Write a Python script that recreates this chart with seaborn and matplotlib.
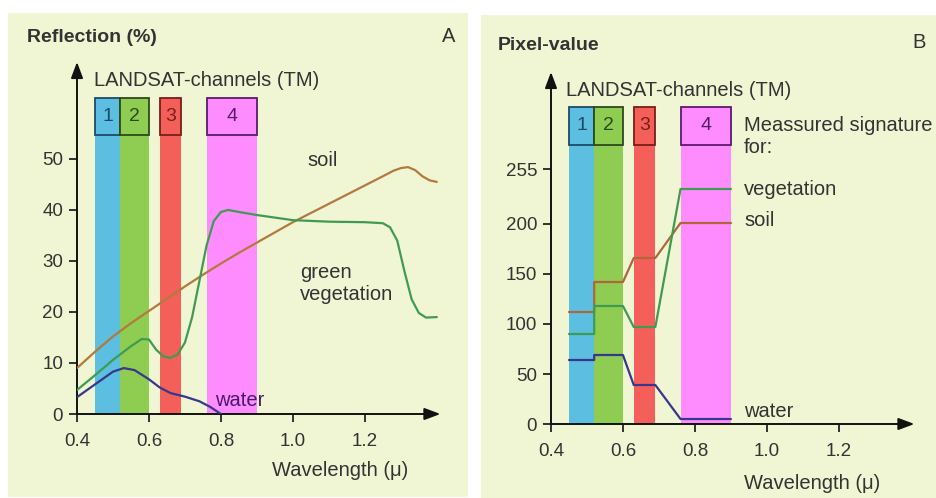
import matplotlib
matplotlib.use("Agg")
import matplotlib.pyplot as plt
from matplotlib.patches import Rectangle
import pandas as pd
import seaborn as sns

# LANDSAT TM channels (micrometre)
channels = ["1", "2", "3", "4"]
band_lo = [0.45, 0.52, 0.63, 0.76]
band_hi = [0.52, 0.60, 0.69, 0.90]

# panel A: spectral reflection curves (%)
soil_x = [0.40, 0.45, 0.50, 0.55, 0.60, 0.65, 0.70, 0.75, 0.80, 0.85, 0.90, 0.95, 1.00,
          1.05, 1.10, 1.15, 1.20, 1.25, 1.28, 1.30, 1.32, 1.34, 1.36, 1.38, 1.40]
soil_y = [9.0, 12.2, 15.2, 17.8, 20.2, 22.6, 25.0, 27.3, 29.5, 31.6, 33.6, 35.6, 37.6,
          39.4, 41.2, 43.0, 44.8, 46.6, 47.7, 48.2, 48.4, 47.8, 46.6, 45.8, 45.5]
veg_x = [0.40, 0.45, 0.50, 0.55, 0.58, 0.60, 0.62, 0.64, 0.66, 0.68, 0.70, 0.72, 0.74,
         0.76, 0.78, 0.80, 0.82, 0.85, 0.90, 1.00, 1.10, 1.20, 1.25, 1.27, 1.29,
         1.31, 1.33, 1.35, 1.37, 1.40]
veg_y = [4.7, 7.6, 10.6, 13.3, 14.7, 14.6, 12.6, 11.3, 11.0, 11.7, 14.0, 19.0, 26.0,
         33.0, 37.8, 39.6, 40.0, 39.6, 39.0, 38.0, 37.7, 37.6, 37.4, 36.6, 34.0,
         28.0, 22.5, 19.8, 18.9, 19.0]
water_x = [0.40, 0.45, 0.50, 0.53, 0.56, 0.60, 0.63, 0.66, 0.70, 0.74, 0.77, 0.80]
water_y = [3.3, 5.8, 8.3, 9.0, 8.6, 6.8, 5.2, 4.1, 3.4, 2.5, 1.4, 0.0]

# panel B: measured pixel values per channel
pix_soil = [112, 142, 166, 201]
pix_veg = [90, 118, 97, 235]
pix_water = [64, 69, 39, 5]

W, H = 936, 498
bg = "#f0f5d3"
band_fill = ["#5cbee0", "#8fcd52", "#f55f5a", "#ff8cff"]
band_edge = ["#1f4a66", "#2e4a1a", "#7a1d1a", "#5a1a6a"]
c_soil, c_veg, c_water = "#b27a3c", "#3f9b52", "#37378c"
txt = "#333333"
FS = 14.5

sns.set_theme(style="white")
plt.rcParams["font.family"] = ["Liberation Sans", "DejaVu Sans"]

fig = plt.figure(figsize=(W / 100, H / 100), dpi=100)
fig.patch.set_facecolor("white")
fig.patches.append(Rectangle((8 / W, 1 / H), 460 / W, 484 / H, transform=fig.transFigure,
                             facecolor=bg, edgecolor="none", zorder=-10))
fig.patches.append(Rectangle((481 / W, 0), 455 / W, 483 / H, transform=fig.transFigure,
                             facecolor=bg, edgecolor="none", zorder=-10))


def fx(px):
    return px / W


def fy(py):
    return 1 - py / H


def setup(ax, ymax, ytop, yticks, box):
    ax.set_facecolor("none")
    ax.set_xlim(0.4, 1.42)
    ax.set_ylim(0, ymax)
    for s in ax.spines.values():
        s.set_visible(False)
    ax.set_xticks([0.4, 0.6, 0.8, 1.0, 1.2])
    ax.set_xticklabels(["0.4", "0.6", "0.8", "1.0", "1.2"])
    ax.set_yticks(yticks)
    ax.tick_params(direction="out", length=6, width=1.3, color="#222222",
                   labelsize=13.5, labelcolor=txt, bottom=True, left=True)
    ax.tick_params(axis="x", pad=8)
    ax.tick_params(axis="y", pad=4)
    arrow = dict(arrowstyle="-|>,head_length=0.8,head_width=0.3", color="#111111",
                 lw=1.4, shrinkA=0, shrinkB=0)
    ax.annotate("", xy=(1.41, 0), xytext=(0.4, 0), arrowprops=arrow, annotation_clip=False)
    ax.annotate("", xy=(0.4, ytop), xytext=(0.4, 0), arrowprops=arrow, annotation_clip=False)
    b0, b1 = box
    for i, ch in enumerate(channels):
        ax.axvspan(band_lo[i], band_hi[i], ymin=0, ymax=b0 / ymax,
                   color=band_fill[i], lw=0, zorder=0)
        ax.add_patch(Rectangle((band_lo[i], b0), band_hi[i] - band_lo[i], b1 - b0,
                               facecolor=band_fill[i], edgecolor=band_edge[i], lw=1.3, zorder=1))
        ax.text((band_lo[i] + band_hi[i]) / 2, (b0 + b1) / 2, ch, ha="center", va="center",
                fontsize=14, color=band_edge[i], zorder=2)


# ---- Panel A ----
axA = fig.add_axes([fx(77), 84 / H, 367 / W, 352 / H])
setup(axA, 69, 69, [0, 10, 20, 30, 40, 50], (54.7, 62.0))
curves = pd.concat([
    pd.DataFrame({"wl": soil_x, "val": soil_y, "kind": "soil"}),
    pd.DataFrame({"wl": veg_x, "val": veg_y, "kind": "vegetation"}),
    pd.DataFrame({"wl": water_x, "val": water_y, "kind": "water"}),
])
sns.lineplot(data=curves, x="wl", y="val", hue="kind", estimator=None, sort=False,
             palette={"soil": c_soil, "vegetation": c_veg, "water": c_water},
             linewidth=1.6, legend=False, ax=axA, zorder=3)
axA.set_xlabel("")
axA.set_ylabel("")

fig.text(fx(27), fy(37), "Reflection (%)", fontsize=14, fontweight="bold", color=txt,
         ha="left", va="center")
fig.text(fx(455), fy(37), "A", fontsize=FS, color=txt, ha="right", va="center")
fig.text(fx(94), fy(80), "LANDSAT-channels (TM)", fontsize=FS, color=txt, ha="left",
         va="center")
fig.text(fx(307), fy(160), "soil", fontsize=FS, color=txt, ha="left", va="center")
fig.text(fx(300), fy(283), "green\nvegetation", fontsize=FS, color=txt, ha="left",
         va="center", linespacing=1.2)
fig.text(fx(215), fy(400), "water", fontsize=FS, color="#4a1a6a", ha="left", va="center")
fig.text(fx(340), fy(470), "Wavelength (\u03bc)", fontsize=FS, color=txt, ha="center",
         va="center")

# ---- Panel B ----
axB = fig.add_axes([fx(551), 74 / H, 367 / W, 352 / H])
setup(axB, 352, 352, [0, 50, 100, 150, 200, 255], (279, 317))
rows = []
for kind, vals in [("soil", pix_soil), ("vegetation", pix_veg), ("water", pix_water)]:
    for i, v in enumerate(vals):
        rows.append({"wl": band_lo[i], "val": v, "kind": kind})
        rows.append({"wl": band_hi[i], "val": v, "kind": kind})
steps = pd.DataFrame(rows)
sns.lineplot(data=steps, x="wl", y="val", hue="kind", estimator=None, sort=False,
             palette={"soil": "#b0663a", "vegetation": c_veg, "water": c_water},
             linewidth=1.6, legend=False, ax=axB, zorder=3)
axB.set_xlabel("")
axB.set_ylabel("")

fig.text(fx(498), fy(45), "Pixel-value", fontsize=14, fontweight="bold", color=txt,
         ha="left", va="center")
fig.text(fx(926), fy(43), "B", fontsize=FS, color=txt, ha="right", va="center")
fig.text(fx(566), fy(90), "LANDSAT-channels (TM)", fontsize=FS, color=txt, ha="left",
         va="center")
fig.text(fx(744), fy(136), "Meassured signature\nfor:", fontsize=FS, color=txt, ha="left",
         va="center", linespacing=1.2)
fig.text(fx(744), fy(189), "vegetation", fontsize=FS, color=txt, ha="left", va="center")
fig.text(fx(744), fy(221), "soil", fontsize=FS, color=txt, ha="left", va="center")
fig.text(fx(744), fy(411), "water", fontsize=FS, color=txt, ha="left", va="center")
fig.text(fx(812), fy(483), "Wavelength (\u03bc)", fontsize=FS, color=txt, ha="center",
         va="center")

fig.savefig("out.png", dpi=100, facecolor=fig.get_facecolor())
